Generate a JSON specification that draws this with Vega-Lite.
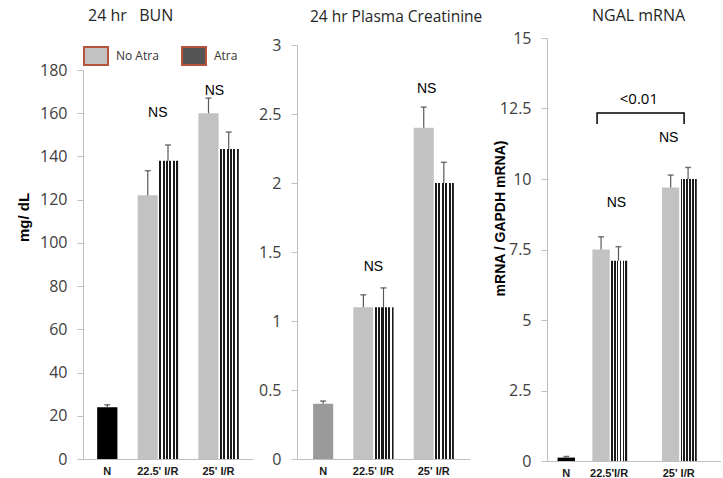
{
  "$schema": "https://vega.github.io/schema/vega-lite/v6.json",
  "background": "white",
  "padding": {"left": 16, "top": 8, "right": 0, "bottom": 0},
  "spacing": 5,
  "resolve": {"scale": {"x": "independent", "y": "independent", "fill": "independent"}, "legend": {"fill": "independent"}},
  "config": {
    "view": {"stroke": null},
    "font": "Open Sans",
    "axisY": {"domainColor": "#bfbfbf", "tickColor": "#bfbfbf", "tickSize": 6, "labelPadding": 10, "labelFont": "Open Sans", "labelFontSize": 16, "labelColor": "#404040", "grid": false, "labelExpr": "'' + datum.value", "titleFont": "Liberation Sans", "titleFontWeight": "bold", "titleColor": "#000000"},
    "axisX": {"domainColor": "#bfbfbf", "ticks": false, "labelFont": "Liberation Sans", "labelFontWeight": "bold", "labelFontSize": 11, "labelColor": "#1a1a1a", "labelPadding": 6, "labelAngle": 0, "grid": false}
  },
  "hconcat": [
    {
      "width": 170, "height": 421,
      "title": {"text": "24 hr\u00a0\u00a0 BUN", "anchor": "start", "frame": "group", "dx": 5, "offset": -2, "baseline": "bottom", "fontSize": 16, "fontWeight": "normal", "font": "Open Sans", "color": "#262626"},
      "data": {"values": [
        {"group": "N", "series": "N", "slot": "N", "value": 24, "upper": 25.1},
        {"group": "22.5' I/R", "series": "No Atra", "slot": "22.5 No Atra", "value": 122, "upper": 133.4},
        {"group": "22.5' I/R", "series": "Atra", "slot": "22.5 Atra", "value": 138, "upper": 145.3},
        {"group": "25' I/R", "series": "No Atra", "slot": "25 No Atra", "value": 160, "upper": 167},
        {"group": "25' I/R", "series": "Atra", "slot": "25 Atra", "value": 143.4, "upper": 151.3}
      ]},
      "encoding": {
        "x": {"field": "slot", "type": "nominal", "scale": {"domain": ["N", "gap1", "22.5 No Atra", "22.5 Atra", "gap2", "25 No Atra", "25 Atra"], "paddingInner": 0, "paddingOuter": 0.7},
          "axis": {"title": null, "values": ["N", "22.5 No Atra", "25 No Atra"], "labelExpr": "datum.value === 'N' ? 'N' : datum.value === '22.5 No Atra' ? \"22.5' I/R\" : \"25' I/R\"", "labelOffset": {"condition": {"test": "datum.value === 'N'", "value": 0}, "value": 10}}},
        "y": {"field": "value", "type": "quantitative", "scale": {"domain": [0, 180], "range": [421, 32], "nice": false},
          "axis": {"values": [0, 20, 40, 60, 80, 100, 120, 140, 160, 180], "title": "mg/ dL", "titleFontSize": 15, "titlePadding": 8, "titleY": 179}}
      },
      "layer": [
        {
          "mark": {"type": "bar"},
          "encoding": {
            "fill": {
              "condition": [
                {"test": "datum.series === 'N'", "value": "#000000"},
                {"test": "datum.series === 'Atra'", "value": {"gradient": "linear", "x1": 0, "y1": 0, "x2": 1, "y2": 0, "stops": [
                  {"offset": 0, "color": "#ffffff"}, {"offset": 0.067, "color": "#ffffff"}, {"offset": 0.067, "color": "#1a1a1a"}, {"offset": 0.167, "color": "#1a1a1a"},
                  {"offset": 0.167, "color": "#ffffff"}, {"offset": 0.233, "color": "#ffffff"}, {"offset": 0.233, "color": "#1a1a1a"}, {"offset": 0.333, "color": "#1a1a1a"},
                  {"offset": 0.333, "color": "#ffffff"}, {"offset": 0.4, "color": "#ffffff"}, {"offset": 0.4, "color": "#1a1a1a"}, {"offset": 0.5, "color": "#1a1a1a"},
                  {"offset": 0.5, "color": "#ffffff"}, {"offset": 0.567, "color": "#ffffff"}, {"offset": 0.567, "color": "#1a1a1a"}, {"offset": 0.667, "color": "#1a1a1a"},
                  {"offset": 0.667, "color": "#ffffff"}, {"offset": 0.733, "color": "#ffffff"}, {"offset": 0.733, "color": "#1a1a1a"}, {"offset": 0.833, "color": "#1a1a1a"},
                  {"offset": 0.833, "color": "#ffffff"}, {"offset": 0.9, "color": "#ffffff"}, {"offset": 0.9, "color": "#1a1a1a"}, {"offset": 1, "color": "#1a1a1a"}]}}
              ],
              "field": "series", "type": "nominal",
              "scale": {"domain": ["No Atra", "Atra"], "range": ["#c2c2c2", "#555555"]},
              "legend": {"orient": "none", "legendX": 0, "legendY": 5, "direction": "horizontal", "title": null, "symbolType": "M-1,-0.75H1V0.75H-1Z", "symbolSize": 576, "symbolStrokeColor": "#b5533c", "symbolStrokeWidth": 2, "labelFont": "Open Sans", "labelFontSize": 12, "labelColor": "#333333", "labelOffset": 7, "columnPadding": 19, "padding": 0}
            }
          }
        },
        {
          "mark": {"type": "rule", "color": "#595959", "strokeWidth": 1.2},
          "encoding": {"y2": {"field": "upper"}}
        },
        {
          "mark": {"type": "tick", "color": "#404040", "thickness": 1.5, "size": 6, "orient": "horizontal"},
          "encoding": {"y": {"field": "upper", "type": "quantitative"}}
        },
        {
          "data": {"values": [{"slot": "22.5 No Atra", "value": 160, "label": "NS"}]},
          "mark": {"type": "text", "font": "Liberation Sans", "fontSize": 14, "color": "#000000", "baseline": "middle", "dx": 10},
          "encoding": {"text": {"field": "label"}}
        },
        {
          "data": {"values": [{"slot": "25 No Atra", "value": 170.3, "label": "NS"}]},
          "mark": {"type": "text", "font": "Liberation Sans", "fontSize": 14, "color": "#000000", "baseline": "middle", "dx": 6},
          "encoding": {"text": {"field": "label"}}
        }
      ]
    },
    {
      "width": 191, "height": 421,
      "title": {"text": "24 hr Plasma Creatinine", "anchor": "start", "frame": "group", "dx": 13, "offset": -3, "baseline": "bottom", "fontSize": 15.5, "fontWeight": "normal", "font": "Open Sans", "color": "#262626"},
      "data": {"values": [
        {"group": "N", "series": "N", "slot": "N", "value": 0.4, "upper": 0.42},
        {"group": "22.5' I/R", "series": "No Atra", "slot": "22.5 No Atra", "value": 1.1, "upper": 1.19},
        {"group": "22.5' I/R", "series": "Atra", "slot": "22.5 Atra", "value": 1.1, "upper": 1.24},
        {"group": "25' I/R", "series": "No Atra", "slot": "25 No Atra", "value": 2.4, "upper": 2.55},
        {"group": "25' I/R", "series": "Atra", "slot": "25 Atra", "value": 2.0, "upper": 2.15}
      ]},
      "encoding": {
        "x": {"field": "slot", "type": "nominal", "scale": {"domain": ["N", "gap1", "22.5 No Atra", "22.5 Atra", "gap2", "25 No Atra", "25 Atra"], "range": [0, 173], "paddingInner": 0, "paddingOuter": 0.8},
          "axis": {"title": null, "values": ["N", "22.5 No Atra", "25 No Atra"], "labelExpr": "datum.value === 'N' ? 'N' : datum.value === '22.5 No Atra' ? \"22.5' I/R\" : \"25' I/R\"", "labelOffset": {"condition": {"test": "datum.value === 'N'", "value": 0}, "value": 10}}},
        "y": {"field": "value", "type": "quantitative", "scale": {"domain": [0, 3], "range": [421, 7], "nice": false},
          "axis": {"values": [0, 0.5, 1, 1.5, 2, 2.5, 3], "title": null}}
      },
      "layer": [
        {
          "mark": {"type": "bar"},
          "encoding": {
            "fill": {
              "condition": [
                {"test": "datum.series === 'N'", "value": "#9a9a9a"},
                {"test": "datum.series === 'Atra'", "value": {"gradient": "linear", "x1": 0, "y1": 0, "x2": 1, "y2": 0, "stops": [
                  {"offset": 0, "color": "#ffffff"}, {"offset": 0.067, "color": "#ffffff"}, {"offset": 0.067, "color": "#1a1a1a"}, {"offset": 0.167, "color": "#1a1a1a"},
                  {"offset": 0.167, "color": "#ffffff"}, {"offset": 0.233, "color": "#ffffff"}, {"offset": 0.233, "color": "#1a1a1a"}, {"offset": 0.333, "color": "#1a1a1a"},
                  {"offset": 0.333, "color": "#ffffff"}, {"offset": 0.4, "color": "#ffffff"}, {"offset": 0.4, "color": "#1a1a1a"}, {"offset": 0.5, "color": "#1a1a1a"},
                  {"offset": 0.5, "color": "#ffffff"}, {"offset": 0.567, "color": "#ffffff"}, {"offset": 0.567, "color": "#1a1a1a"}, {"offset": 0.667, "color": "#1a1a1a"},
                  {"offset": 0.667, "color": "#ffffff"}, {"offset": 0.733, "color": "#ffffff"}, {"offset": 0.733, "color": "#1a1a1a"}, {"offset": 0.833, "color": "#1a1a1a"},
                  {"offset": 0.833, "color": "#ffffff"}, {"offset": 0.9, "color": "#ffffff"}, {"offset": 0.9, "color": "#1a1a1a"}, {"offset": 1, "color": "#1a1a1a"}]}}
              ],
              "field": "series", "type": "nominal",
              "scale": {"domain": ["No Atra", "Atra"], "range": ["#c2c2c2", "#555555"]},
              "legend": null
            }
          }
        },
        {
          "mark": {"type": "rule", "color": "#595959", "strokeWidth": 1.2},
          "encoding": {"y2": {"field": "upper"}}
        },
        {
          "mark": {"type": "tick", "color": "#404040", "thickness": 1.5, "size": 6, "orient": "horizontal"},
          "encoding": {"y": {"field": "upper", "type": "quantitative"}}
        },
        {
          "data": {"values": [{"slot": "22.5 No Atra", "value": 1.39, "label": "NS"}]},
          "mark": {"type": "text", "font": "Liberation Sans", "fontSize": 14, "color": "#000000", "baseline": "middle", "dx": 10},
          "encoding": {"text": {"field": "label"}}
        },
        {
          "data": {"values": [{"slot": "25 No Atra", "value": 2.68, "label": "NS"}]},
          "mark": {"type": "text", "font": "Liberation Sans", "fontSize": 14, "color": "#000000", "baseline": "middle", "dx": 3},
          "encoding": {"text": {"field": "label"}}
        }
      ]
    },
    {
      "width": 174, "height": 423,
      "title": {"text": "NGAL mRNA", "anchor": "start", "frame": "group", "dx": 45, "offset": -10, "baseline": "bottom", "fontSize": 16, "fontWeight": "normal", "font": "Open Sans", "color": "#262626"},
      "data": {"values": [
        {"group": "N", "series": "N", "slot": "N", "value": 0.12, "upper": 0.16},
        {"group": "22.5' I/R", "series": "No Atra", "slot": "22.5 No Atra", "value": 7.5, "upper": 7.95},
        {"group": "22.5' I/R", "series": "Atra", "slot": "22.5 Atra", "value": 7.1, "upper": 7.6},
        {"group": "25' I/R", "series": "No Atra", "slot": "25 No Atra", "value": 9.7, "upper": 10.14},
        {"group": "25' I/R", "series": "Atra", "slot": "25 Atra", "value": 10.0, "upper": 10.41}
      ]},
      "encoding": {
        "x": {"field": "slot", "type": "nominal", "scale": {"domain": ["N", "gap1", "22.5 No Atra", "22.5 Atra", "gap2", "gap3", "25 No Atra", "25 Atra"], "paddingInner": 0, "paddingOuter": 1.4375, "align": 0.304},
          "axis": {"title": null, "values": ["N", "22.5 No Atra", "25 No Atra"], "labelExpr": "datum.value === 'N' ? 'N' : datum.value === '22.5 No Atra' ? \"22.5'I/R\" : \"25' I/R\"", "labelOffset": {"condition": {"test": "datum.value === 'N'", "value": 0}, "value": 8}}},
        "y": {"field": "value", "type": "quantitative", "scale": {"domain": [0, 15], "range": [423, 0], "nice": false},
          "axis": {"values": [0, 2.5, 5, 7.5, 10, 12.5, 15], "title": "mRNA / GAPDH mRNA)", "titleFontSize": 14, "titlePadding": -8, "titleY": 180}}
      },
      "layer": [
        {
          "mark": {"type": "bar"},
          "encoding": {
            "fill": {
              "condition": [
                {"test": "datum.series === 'N'", "value": "#000000"},
                {"test": "datum.series === 'Atra'", "value": {"gradient": "linear", "x1": 0, "y1": 0, "x2": 1, "y2": 0, "stops": [
                  {"offset": 0, "color": "#ffffff"}, {"offset": 0.067, "color": "#ffffff"}, {"offset": 0.067, "color": "#1a1a1a"}, {"offset": 0.167, "color": "#1a1a1a"},
                  {"offset": 0.167, "color": "#ffffff"}, {"offset": 0.233, "color": "#ffffff"}, {"offset": 0.233, "color": "#1a1a1a"}, {"offset": 0.333, "color": "#1a1a1a"},
                  {"offset": 0.333, "color": "#ffffff"}, {"offset": 0.4, "color": "#ffffff"}, {"offset": 0.4, "color": "#1a1a1a"}, {"offset": 0.5, "color": "#1a1a1a"},
                  {"offset": 0.5, "color": "#ffffff"}, {"offset": 0.567, "color": "#ffffff"}, {"offset": 0.567, "color": "#1a1a1a"}, {"offset": 0.667, "color": "#1a1a1a"},
                  {"offset": 0.667, "color": "#ffffff"}, {"offset": 0.733, "color": "#ffffff"}, {"offset": 0.733, "color": "#1a1a1a"}, {"offset": 0.833, "color": "#1a1a1a"},
                  {"offset": 0.833, "color": "#ffffff"}, {"offset": 0.9, "color": "#ffffff"}, {"offset": 0.9, "color": "#1a1a1a"}, {"offset": 1, "color": "#1a1a1a"}]}}
              ],
              "field": "series", "type": "nominal",
              "scale": {"domain": ["No Atra", "Atra"], "range": ["#c2c2c2", "#555555"]},
              "legend": null
            }
          }
        },
        {
          "mark": {"type": "rule", "color": "#595959", "strokeWidth": 1.2},
          "encoding": {"y2": {"field": "upper"}}
        },
        {
          "mark": {"type": "tick", "color": "#404040", "thickness": 1.5, "size": 6, "orient": "horizontal"},
          "encoding": {"y": {"field": "upper", "type": "quantitative"}}
        },
        {
          "data": {"values": [{"slot": "22.5 Atra", "value": 9.15, "label": "NS"}, {"slot": "25 No Atra", "value": 11.45, "label": "NS"}]},
          "mark": {"type": "text", "font": "Liberation Sans", "fontSize": 14, "color": "#000000", "baseline": "middle", "dx": -2},
          "encoding": {"text": {"field": "label"}}
        },
        {
          "data": {"values": [{"slot": "gap2", "value": 12.84, "label": "<0.01"}]},
          "mark": {"type": "text", "font": "Open Sans", "fontSize": 15, "color": "#000000", "baseline": "middle", "dx": 3},
          "encoding": {"text": {"field": "label"}}
        },
        {
          "data": {"values": [
            {"slot": "22.5 No Atra", "value": 11.95, "order": 1},
            {"slot": "22.5 No Atra", "value": 12.34, "order": 2},
            {"slot": "25 Atra", "value": 12.34, "order": 3},
            {"slot": "25 Atra", "value": 11.95, "order": 4}
          ]},
          "mark": {"type": "line", "color": "#000000", "strokeWidth": 1.5, "xOffset": -4},
          "encoding": {"order": {"field": "order", "type": "quantitative"}}
        }
      ]
    }
  ]
}
